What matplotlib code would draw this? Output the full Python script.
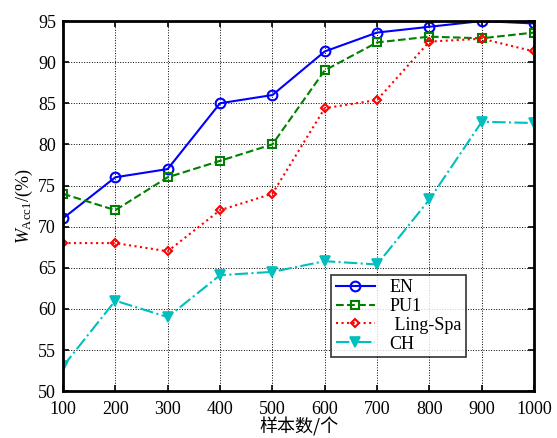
import matplotlib
matplotlib.use("Agg")
import matplotlib.pyplot as plt

plt.rcParams["font.family"] = ["Liberation Serif", "Noto Sans CJK SC", "DejaVu Sans"]
plt.rcParams["mathtext.fontset"] = "custom"
plt.rcParams["mathtext.rm"] = "Liberation Serif"
plt.rcParams["mathtext.it"] = "Liberation Serif:italic"

samples = [100, 200, 300, 400, 500, 600, 700, 800, 900, 1000]
en = [71, 76, 77, 85, 86, 91.3, 93.6, 94.3, 95.0, 94.7]
pu1 = [74, 72, 76, 78, 80, 89.0, 92.4, 93.1, 92.9, 93.6]
ling_spa = [68, 68, 67, 72, 74, 84.4, 85.4, 92.5, 92.85, 91.3]
ch = [53, 61, 59, 64.1, 64.5, 65.8, 65.4, 73.3, 82.75, 82.6]

fig = plt.figure(figsize=(5.57, 4.38), dpi=100)
ax = fig.add_axes([0.113, 0.107, 0.846, 0.845])

ax.plot(samples, en, color="blue", ls="-", lw=1.5, marker="o", ms=7,
        mfc="none", mew=1.5, label="EN")
ax.plot(samples, pu1, color="green", ls="--", lw=1.5, marker="s", ms=6,
        mfc="none", mew=1.5, label="PU1")
ax.plot(samples, ling_spa, color="red", ls=":", lw=1.5, marker="D", ms=4.5,
        mfc="none", mew=1.5, label=" Ling-Spa")
ax.plot(samples, ch, color="#00BFBF", ls="-.", lw=1.5, marker="v", ms=7,
        mfc="#00BFBF", mew=1.2, label="CH")

ax.set_xlim(100, 1000)
ax.set_ylim(50, 95)
ax.set_xticks(samples)
ax.set_yticks(range(50, 96, 5))
ax.grid(True, color="black", ls=":", lw=0.7)
ax.tick_params(direction="in", top=True, right=True, labelsize=13, length=4, width=1.2)
ax.tick_params(axis="x", pad=7)
ax.tick_params(axis="y", pad=5)
for s in ax.spines.values():
    s.set_linewidth(2)

ax.set_xlabel("样本数/个", fontsize=13, family=["Noto Sans CJK SC"], labelpad=0)
ax.set_ylabel(r"$W_{\mathrm{Acc1}}$/(%)", fontsize=13, labelpad=2)

leg = ax.legend(loc="lower left", bbox_to_anchor=(0.569, 0.092), fontsize=13,
                frameon=True, fancybox=False, edgecolor="black", borderaxespad=0,
                handlelength=2.2, borderpad=0.25, labelspacing=0.1)
leg.get_frame().set_linewidth(1.2)

fig.savefig("out.png", dpi=100)
